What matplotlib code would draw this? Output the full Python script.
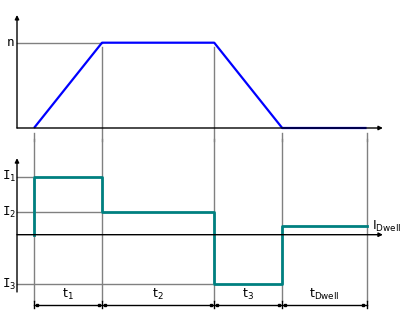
import numpy as np
import matplotlib
matplotlib.use('Agg')
import matplotlib.pyplot as plt

# phase durations (arbitrary time units)
durations = [1.0, 1.65, 1.0, 1.24]
dur_labels = ['t_1', 't_2', 't_3', 't_{Dwell}']

# speed profile
speed_n = 1.0
speed = [0.0, speed_n, speed_n, 0.0, 0.0]

# current levels
I1 = 1.0
I2 = 0.39
I3 = -0.85
I_dwell = 0.15
currents = [I1, I2, I3, I_dwell, I_dwell]
current_labels = ['I_1', 'I_2', 'I_3']

edges = np.concatenate([[0], np.cumsum(durations)])

plt.rcParams['mathtext.fontset'] = 'dejavusans'
fig = plt.figure(figsize=(4.06, 3.12), dpi=100)
ax1 = fig.add_axes([0, 172/312, 1, 140/312])
ax2 = fig.add_axes([0, 0, 1, 172/312])
xl = (-0.5, 5.47)
ax1.set_xlim(*xl)
ax2.set_xlim(*xl)
ax1.set_ylim(-0.1407, 1.5006)
ax2.set_ylim(-1.333, 1.633)
for a in (ax1, ax2):
    a.axis('off')

grey = '#808080'
ax0 = -0.25
xend = 5.13

def arrow(a, x0, y0, x1, y1):
    a.annotate('', xy=(x1, y1), xytext=(x0, y0),
               arrowprops=dict(arrowstyle='-|>', lw=1, color='black',
                               mutation_scale=6, shrinkA=0, shrinkB=0))

# top panel: speed
for x, s in zip(edges, speed):
    y0 = s - 0.05 if s > 0 else -0.06
    ax1.plot([x, x], [y0, -0.15], color=grey, lw=1, clip_on=False)
ax1.plot([ax0, edges[1]], [speed_n, speed_n], color=grey, lw=1)
arrow(ax1, ax0, 0, ax0, 1.325)
arrow(ax1, ax0, 0, xend, 0)
ax1.plot(edges, speed, color='#0000ff', lw=1.6, solid_capstyle='butt')
ax1.text(-0.35, speed_n, 'n', ha='center', va='center', fontsize=9,
         family='DejaVu Sans Mono')

# bottom panel: current
dim_y = -1.217
for x in edges:
    ax2.plot([x, x], [1.65, -1.14], color=grey, lw=1, clip_on=False)
    ax2.plot([x, x], [-1.14, -1.26], color='black', lw=1)
ref_ends = [-0.03, edges[1] - 0.03, edges[2] - 0.03]
for lvl, xe, lab in zip([I1, I2, I3], ref_ends, current_labels):
    ax2.plot([ax0, xe], [lvl, lvl], color=grey, lw=1)
    ax2.text(-0.47, lvl, r'$\mathregular{%s}$' % lab, ha='left', va='center',
             fontsize=9, family='DejaVu Sans Mono')
arrow(ax2, ax0, -0.988, ax0, 1.32)
arrow(ax2, ax0, 0, xend, 0)
ax2.plot(np.concatenate([[0], edges]), [0] + currents, drawstyle='steps-post',
         color='#008080', lw=2)
ax2.text(edges[-1] + 0.08, I_dwell, r'$\mathregular{I_{Dwell}}$', ha='left',
         va='center', fontsize=9)

# dimension lines
for i, lab in enumerate(dur_labels):
    a, b = edges[i], edges[i + 1]
    ax2.plot([a, b], [dim_y, dim_y], color='black', lw=1)
    ax2.plot([a + 0.045, b - 0.045], [dim_y, dim_y], ls='none', marker='s',
             ms=1.6, color='black')
    ax2.text((a + b) / 2, dim_y + 0.05, r'$\mathregular{%s}$' % lab,
             ha='center', va='bottom', fontsize=9)

fig.savefig('out.png', dpi=100)
